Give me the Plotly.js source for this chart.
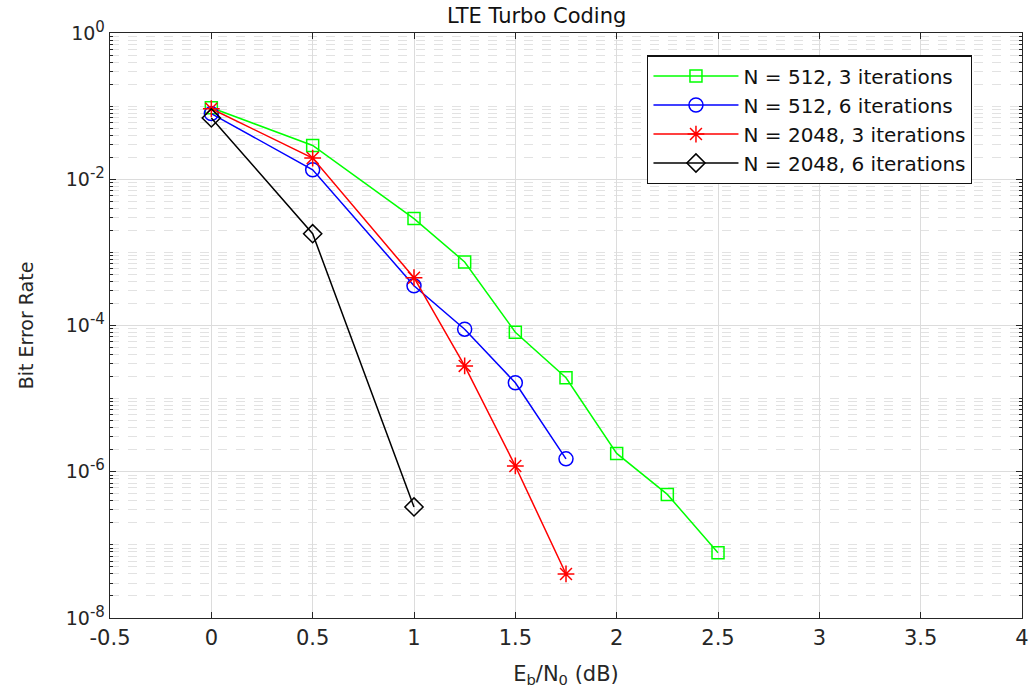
<!DOCTYPE html>
<html>
<head>
<meta charset="utf-8">
<script src="https://cdn.plot.ly/plotly-3.0.1.min.js"></script>
<style>html,body{margin:0;padding:0;background:#fff;}#chart{width:1032px;height:694px;}</style>
</head>
<body>
<div id="chart"></div>
<script>
const ebno512_3 = [0, 0.5, 1, 1.25, 1.5, 1.75, 2, 2.25, 2.5];
const ber512_3 = [0.095, 0.029, 0.0029, 7.4e-4, 8.1e-5, 1.93e-5, 1.78e-6, 4.9e-7, 7.8e-8];
const ebno512_6 = [0, 0.5, 1, 1.25, 1.5, 1.75];
const ber512_6 = [0.079, 0.0135, 3.5e-4, 8.9e-5, 1.65e-5, 1.5e-6];
const ebno2048_3 = [0, 0.5, 1, 1.25, 1.5, 1.75];
const ber2048_3 = [0.092, 0.0195, 4.5e-4, 2.8e-5, 1.2e-6, 4.0e-8];
const ebno2048_6 = [0, 0.5, 1];
const ber2048_6 = [0.069, 0.0018, 3.3e-7];
const seriesNames = ["N = 512, 3 iterations", "N = 512, 6 iterations", "N = 2048, 3 iterations", "N = 2048, 6 iterations"];
const xTickVals = [-0.5, 0, 0.5, 1, 1.5, 2, 2.5, 3, 3.5, 4];
const xTickText = ["-0.5", "0", "0.5", "1", "1.5", "2", "2.5", "3", "3.5", "4"];
const yExponents = [0, -2, -4, -6, -8];
const yTickBase = "10";
const yTickText = yExponents.map(e => yTickBase + "<sup><span style='font-size:15px'>" + e + "</span></sup>");

const yTickVals = yExponents.map(e => Math.pow(10, e));
const minorVals = [];
for (let e = -8; e < 0; e++) for (let d = 1; d <= 9; d++) { if (d === 1 && e % 2 === 0) continue; minorVals.push(d * Math.pow(10, e)); }

function tr(x, y, name, color, symbol, size) {
  return {x: x, y: y, name: name, type: 'scatter', mode: 'lines+markers',
    line: {color: color, width: 1.5},
    marker: {symbol: symbol, size: size, color: color, line: {color: color, width: 1.5}}};
}
const data = [
  tr(ebno512_3, ber512_3, seriesNames[0], '#00ff00', 'square-open', 12),
  tr(ebno512_6, ber512_6, seriesNames[1], '#0000ff', 'circle-open', 14),
  tr(ebno2048_3, ber2048_3, seriesNames[2], '#ff0000', 'asterisk-open', 14),
  tr(ebno2048_6, ber2048_6, seriesNames[3], '#000000', 'diamond-open', 14)
];
const axCol = '#262626';
const fam = 'DejaVu Sans, Liberation Sans, Arial, sans-serif';
const layout = {
  width: 1032, height: 694,
  margin: {l: 110, r: 10, t: 33, b: 76},
  paper_bgcolor: '#fff', plot_bgcolor: '#fff',
  font: {family: fam, color: axCol, size: 18},
  title: {text: 'LTE Turbo Coding', font: {size: 21, color: '#111'}, x: 0.52, xanchor: 'center', y: 0.978, yanchor: 'middle'},
  showlegend: true,
  legend: {x: 0.589, y: 0.962, xanchor: 'left', yanchor: 'top', bgcolor: '#fff', bordercolor: '#111', borderwidth: 1.3,
    font: {size: 20, color: '#111'}, itemwidth: 85, tracegroupgap: 0},
  xaxis: {range: [-0.5, 4], tickvals: xTickVals, ticktext: xTickText, showline: true, linecolor: axCol, linewidth: 1.3,
    mirror: 'ticks', ticks: 'inside', ticklen: 6, tickcolor: axCol, showgrid: true, gridcolor: '#dcdcdc', gridwidth: 1,
    zeroline: false, tickfont: {size: 21},
    title: {text: 'E<sub>b</sub>/N<sub>0</sub> (dB)', font: {size: 21}, standoff: 17}},
  yaxis: {type: 'log', range: [-8, 0], tickvals: yTickVals, ticktext: yTickText, showline: true, linecolor: axCol, linewidth: 1.3,
    mirror: 'ticks', ticks: 'inside', ticklen: 6, tickcolor: axCol, showgrid: true, gridcolor: '#dcdcdc', gridwidth: 1,
    zeroline: false, tickfont: {size: 19},
    minor: {tickvals: minorVals, ticks: 'inside', ticklen: 3, tickcolor: axCol, showgrid: true, gridcolor: '#e2e2e2', griddash: 'dash', gridwidth: 1},
    title: {text: 'Bit Error Rate', font: {size: 19}, standoff: 27}}
};
Plotly.newPlot('chart', data, layout, {displayModeBar: false, staticPlot: true});
</script>
</body>
</html>
